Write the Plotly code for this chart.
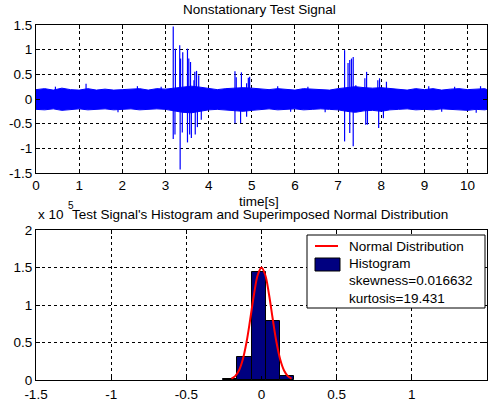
import plotly.graph_objects as go

# ---------------- data ----------------
# noise band envelope of the test signal (time [s], upper / lower edge)
band_t = [0.0, 0.2, 0.4, 0.6, 0.8, 1.0, 1.2, 1.4, 1.6, 1.8, 2.0, 2.2, 2.4, 2.6, 2.8,
          3.0, 3.2, 3.4, 3.6, 3.8, 4.0, 4.2, 4.4, 4.6, 4.8, 5.0, 5.2, 5.4, 5.6, 5.8,
          6.0, 6.2, 6.4, 6.6, 6.8, 7.0, 7.2, 7.4, 7.6, 7.8, 8.0, 8.2, 8.4, 8.6, 8.8,
          9.0, 9.2, 9.4, 9.6, 9.8, 10.0, 10.2, 10.4, 10.45]
band_hi = [0.19, 0.21, 0.18, 0.22, 0.19, 0.18, 0.21, 0.18, 0.20, 0.18, 0.19, 0.20, 0.21, 0.18, 0.21,
           0.20, 0.22, 0.24, 0.26, 0.24, 0.21, 0.19, 0.21, 0.22, 0.23, 0.22, 0.20, 0.19, 0.21, 0.19,
           0.18, 0.21, 0.20, 0.19, 0.18, 0.21, 0.23, 0.25, 0.23, 0.22, 0.23, 0.21, 0.19, 0.18, 0.21,
           0.19, 0.21, 0.18, 0.20, 0.21, 0.19, 0.20, 0.21, 0.19]
band_lo = [-0.21, -0.22, -0.20, -0.23, -0.21, -0.20, -0.22, -0.21, -0.20, -0.22, -0.21, -0.20, -0.22, -0.21, -0.20,
           -0.21, -0.24, -0.27, -0.28, -0.25, -0.22, -0.21, -0.22, -0.24, -0.25, -0.23, -0.21, -0.20, -0.22, -0.21,
           -0.20, -0.22, -0.21, -0.20, -0.21, -0.22, -0.25, -0.27, -0.24, -0.23, -0.25, -0.22, -0.21, -0.20, -0.22,
           -0.21, -0.22, -0.20, -0.21, -0.22, -0.23, -0.21, -0.22, -0.21]

# individual spikes (time [s], amplitude)
spike_t = [1.16, 0.45, 2.35, 2.9, 5.6, 6.3, 9.1, 9.7, 10.3,
           3.18, 3.23, 3.33, 3.35, 3.40, 3.51, 3.54, 3.58, 3.66, 3.68, 3.72, 3.77,
           4.61, 4.64, 4.76, 4.88, 4.92, 4.95,
           7.15, 7.23, 7.27, 7.31, 7.35, 7.41, 7.62, 7.66, 7.92, 7.96, 8.12,
           3.18, 3.22, 3.34, 3.39, 3.51, 3.56, 3.60, 3.69, 3.74, 3.83,
           4.61, 4.74, 4.88,
           7.15, 7.27, 7.35, 7.64, 7.68, 7.94, 8.05,
           1.9, 5.9, 6.7, 9.4, 10.2]
spike_v = [0.31, 0.25, 0.26, 0.25, 0.26, 0.25, 0.26, 0.25, 0.26,
           1.47, 1.02, 1.09, 0.82, 0.95, 1.02, 0.82, 0.75, 0.38, 0.55, 0.57, 0.48,
           0.56, 0.44, 0.54, 0.32, 0.43, 0.45,
           0.99, 0.73, 0.79, 0.82, 0.85, 0.28, 0.42, 0.55, 0.38, 0.42, 0.35,
           -0.81, -0.72, -1.43, -0.68, -0.88, -0.72, -0.79, -0.72, -0.57, -0.42,
           -0.49, -0.49, -0.36,
           -0.86, -0.69, -0.96, -0.52, -0.52, -0.59, -0.39,
           -0.27, -0.26, -0.27, -0.26, -0.28]

# histogram bins (centers) and counts
hist_x = [-0.2095, -0.1135, -0.0185, 0.0755, 0.1705]
hist_n = [1000, 30500, 144500, 79000, 5300]
bin_w = 0.0953

# superimposed normal distribution
norm_x = [-0.200, -0.175, -0.150, -0.125, -0.100, -0.075, -0.050, -0.025, 0.000,
          0.025, 0.050, 0.075, 0.100, 0.125, 0.150, 0.175, 0.200]
norm_y = [1900, 5200, 12700, 27000, 50000, 81000, 114000, 140000, 150000,
          140000, 114000, 81000, 50000, 27000, 12700, 5200, 1900]

top_ticks = [-1.5, -1, -0.5, 0, 0.5, 1, 1.5]
top_ticktext = ["-1.5", "-1", "-0.5", "0", "0.5", "1", "1.5"]
bot_xticks = [-1.5, -1, -0.5, 0, 0.5, 1, 1.5]
bot_xticktext = ["-1.5", "-1", "-0.5", "0", "0.5", "1", "1.5"]
bot_yticks = [0, 50000, 100000, 150000, 200000]
bot_yticktext = ["0", "0.5", "1", "1.5", "2"]

legend_labels = ["Normal Distribution", "Histogram", "skewness=0.016632", "kurtosis=19.431"]

# ---------------- figure ----------------
FONT = "Liberation Sans, Arial, sans-serif"
FS = 13.5
fig = go.Figure()

# noise band
fig.add_trace(go.Scatter(
    x=band_t + band_t[::-1], y=band_hi + band_lo[::-1],
    fill="toself", fillcolor="#0000FF", mode="lines",
    line=dict(color="#0000FF", width=1), xaxis="x", yaxis="y",
    showlegend=False, hoverinfo="skip"))

# spikes as vertical segments
sx, sy = [], []
for t, v in zip(spike_t, spike_v):
    sx += [t, t, None]
    sy += [0, v, None]
fig.add_trace(go.Scatter(x=sx, y=sy, mode="lines",
                         line=dict(color="#0000FF", width=1.2),
                         xaxis="x", yaxis="y", showlegend=False))

# histogram
fig.add_trace(go.Bar(x=hist_x, y=hist_n, width=bin_w,
                     marker=dict(color="#000080", line=dict(color="black", width=1)),
                     xaxis="x2", yaxis="y2", showlegend=False))
# normal curve
fig.add_trace(go.Scatter(x=norm_x, y=norm_y, mode="lines", line=dict(color="#FF0000", width=2),
                         line_shape="spline", xaxis="x2", yaxis="y2", showlegend=False))

axis_common = dict(showline=True, linecolor="black", linewidth=1, mirror="allticks",
                   ticks="inside", ticklen=4, tickcolor="black",
                   showgrid=True, gridcolor="black", gridwidth=1, griddash="3px,3px",
                   zeroline=False, tickfont=dict(family=FONT, size=FS, color="black"))

fig.update_layout(
    width=496, height=410,
    margin=dict(l=36, r=9, t=25, b=30),
    paper_bgcolor="white", plot_bgcolor="white",
    font=dict(family=FONT, size=FS, color="black"),
    xaxis=dict(domain=[0, 1], anchor="y", range=[0, 10.45],
               tickvals=list(range(0, 11)), **axis_common),
    yaxis=dict(domain=[0.5831, 1.0], anchor="x", range=[-1.5, 1.5],
               tickvals=top_ticks, ticktext=top_ticktext, **axis_common),
    xaxis2=dict(domain=[0, 1], anchor="y2", range=[-1.5, 1.5], ticklabelstandoff=2,
                tickvals=bot_xticks, ticktext=bot_xticktext, **axis_common),
    yaxis2=dict(domain=[0, 0.4225], anchor="x2", range=[0, 200000],
                tickvals=bot_yticks, ticktext=bot_yticktext, **axis_common),
    bargap=0,
)

ann = [
    dict(text="Nonstationary Test Signal", x=0.4945, y=1.045),
    dict(text="time[s]", x=0.4945, y=0.5042),
    dict(text="Test Signal's Histogram and Superimposed Normal Distribution", x=0.4967, y=0.4676),
]
for a in ann:
    fig.add_annotation(text=a["text"], x=a["x"], y=a["y"], xref="paper", yref="paper",
                       showarrow=False, xanchor="center", yanchor="middle",
                       font=dict(family=FONT, size=FS, color="black"))
fig.add_annotation(text="x 10", x=0.0, y=0.4676, xref="paper", yref="paper", showarrow=False,
                   xanchor="left", yanchor="middle", font=dict(family=FONT, size=FS, color="black"))
fig.add_annotation(text="5", x=(66 - 36) / 451, y=(380 - 205) / 355, xref="paper", yref="paper",
                   showarrow=False, xanchor="left", yanchor="middle",
                   font=dict(family=FONT, size=10, color="black"))

# legend box (drawn in paper coordinates)
def px(xp):
    return (xp - 36) / 451

def py(yp):
    return (380 - yp) / 355

fig.add_shape(type="rect", xref="paper", yref="paper", x0=px(307), x1=px(485), y0=py(308), y1=py(235),
              line=dict(color="black", width=1), fillcolor="white", layer="above")
fig.add_shape(type="line", xref="paper", yref="paper", x0=px(315), x1=px(338), y0=py(246), y1=py(246),
              line=dict(color="#FF0000", width=2), layer="above")
fig.add_shape(type="rect", xref="paper", yref="paper", x0=px(315), x1=px(340), y0=py(271), y1=py(258),
              line=dict(color="black", width=1), fillcolor="#000080", layer="above")
for lbl, yp in zip(legend_labels, [246, 263, 280, 298]):
    fig.add_annotation(text=lbl, x=px(347), y=py(yp), xref="paper", yref="paper", showarrow=False,
                       xanchor="left", yanchor="middle", font=dict(family=FONT, size=FS, color="black"))

fig.write_html("out.html")
